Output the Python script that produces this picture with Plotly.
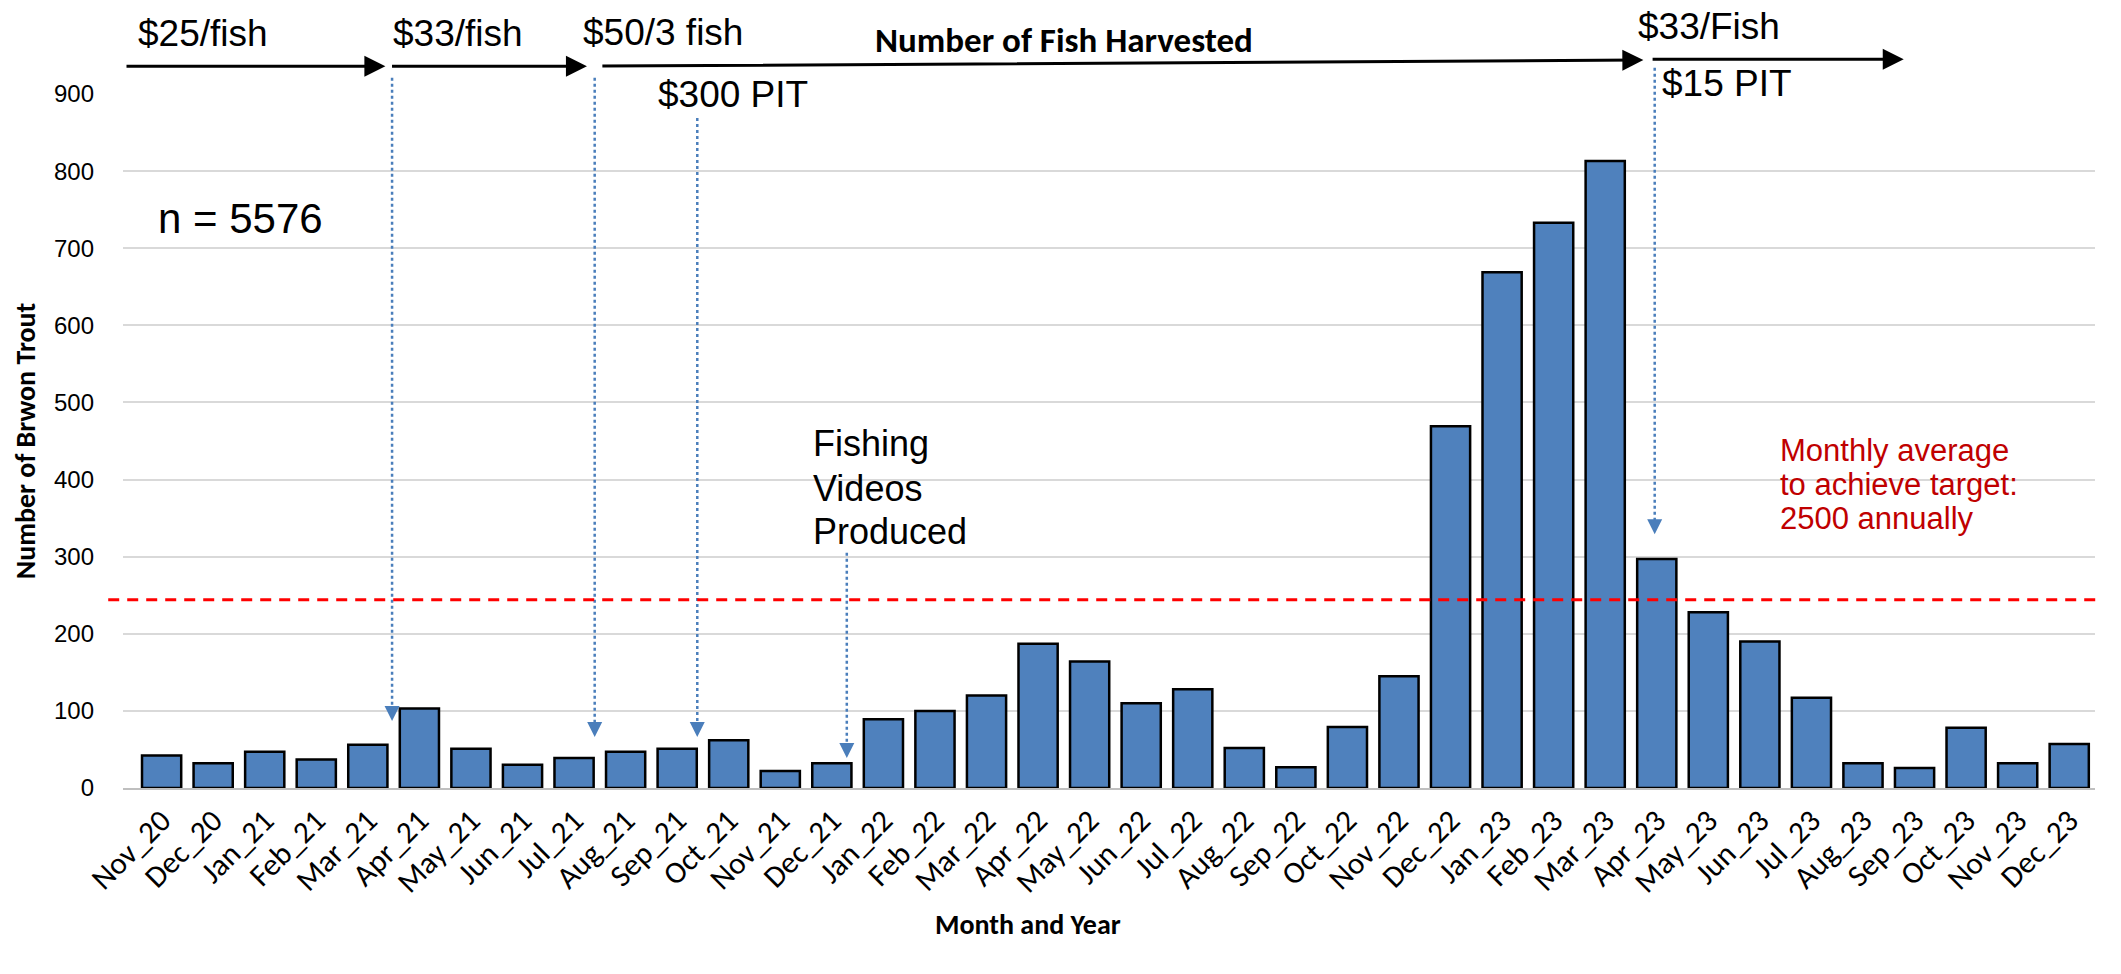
import plotly.graph_objects as go

months = ["Nov_20", "Dec_20", "Jan_21", "Feb_21", "Mar_21", "Apr_21", "May_21", "Jun_21",
          "Jul_21", "Aug_21", "Sep_21", "Oct_21", "Nov_21", "Dec_21", "Jan_22", "Feb_22",
          "Mar_22", "Apr_22", "May_22", "Jun_22", "Jul_22", "Aug_22", "Sep_22", "Oct_22",
          "Nov_22", "Dec_22", "Jan_23", "Feb_23", "Mar_23", "Apr_23", "May_23", "Jun_23",
          "Jul_23", "Aug_23", "Sep_23", "Oct_23", "Nov_23", "Dec_23"]
trout = [42, 32, 47, 37, 56, 103, 51, 30, 39, 47, 51, 62, 22, 32, 89, 100, 120, 187, 164,
         110, 128, 52, 27, 79, 145, 469, 669, 733, 813, 297, 228, 190, 117, 32, 26, 78, 32, 57]
target_monthly = 244
y_max = 900
y_ticks = [0, 100, 200, 300, 400, 500, 600, 700, 800, 900]

# header price labels: (text, x index, y value on the count scale)
price_labels = [("$25/fish", 0.80, 979), ("$33/fish", 5.74, 979), ("$50/3 fish", 9.73, 980),
                ("$33/Fish", 30.01, 987), ("$300 PIT", 11.08, 900), ("$15 PIT", 30.37, 913)]
# black period arrows: (x tail, x head, y head value, tail pixel offset)
period_arrows = [(-0.71, 4.34, 936, 0), (4.44, 8.25, 936, 0),
                 (8.52, 28.74, 944, 6), (28.89, 33.79, 945, 0)]
# blue dotted event arrows: (x index, top value, tip value)
event_arrows = [(4.47, 921, 87), (8.40, 921, 66), (10.39, 869, 66),
                (13.29, 305, 39), (28.96, 934, 329)]
videos_lines = ["Fishing", "Videos", "Produced"]
videos_pos = (12.59, [447, 389, 332])
target_lines = ["Monthly average", "to achieve target:", "2500 annually"]
target_pos = (31.36, [438, 394, 350])

ARIAL = "Arial, 'Liberation Sans', sans-serif"
CAL = "Carlito, Calibri, Lato, sans-serif"
BLUE = "#4A7EBB"


def py(v):
    return v / y_max


fig = go.Figure()
fig.add_trace(go.Bar(
    x=months, y=trout,
    marker=dict(color="#4F81BD", line=dict(color="black", width=2.5)),
    showlegend=False,
))

ann = []
for t, x, y in price_labels:
    ann.append(dict(text=t, x=x, y=py(y), xref="x", yref="paper", showarrow=False,
                    xanchor="center", yanchor="middle",
                    font=dict(family=ARIAL, size=37, color="black")))
ann.append(dict(text="<b>Number of Fish Harvested</b>", x=17.50, y=py(970), xref="x",
                yref="paper", showarrow=False, xanchor="center", yanchor="middle",
                font=dict(family=CAL, size=35, color="black")))
ann.append(dict(text="n = 5576", x=1.53, y=739, xref="x", yref="y", showarrow=False,
                xanchor="center", yanchor="middle",
                font=dict(family=ARIAL, size=42, color="black")))
for t, y in zip(videos_lines, videos_pos[1]):
    ann.append(dict(text=t, x=videos_pos[0], y=y, xref="x", yref="y", xanchor="left",
                    yanchor="middle", showarrow=False,
                    font=dict(family=ARIAL, size=36, color="black")))
for t, y in zip(target_lines, target_pos[1]):
    ann.append(dict(text=t, x=target_pos[0], y=y, xref="x", yref="y", xanchor="left",
                    yanchor="middle", showarrow=False,
                    font=dict(family=ARIAL, size=31, color="#C00000")))
for x0, x1, y1, dy in period_arrows:
    ann.append(dict(text="", x=x1, y=py(y1), ax=x0, ay=dy, xref="x", yref="paper",
                    axref="x", ayref="pixel", showarrow=True, arrowhead=2, arrowsize=1.4,
                    arrowwidth=3, arrowcolor="black", standoff=0))
shapes = []
for x, top, tip in event_arrows:
    shapes.append(dict(type="line", xref="x", yref="paper", x0=x, x1=x, y0=py(top),
                       y1=py(tip + 15), line=dict(color=BLUE, width=2.5, dash="dot")))
    ann.append(dict(text="", x=x, y=tip, ax=0, ay=-16, xref="x", yref="y",
                    showarrow=True, arrowhead=2, arrowsize=1.5, arrowwidth=2,
                    arrowcolor=BLUE, standoff=0))
shapes.append(dict(type="line", xref="paper", yref="y", x0=-0.0075, x1=1.0005,
                   y0=target_monthly, y1=target_monthly,
                   line=dict(color="#FF0000", width=3, dash="11px,8px")))
# x-axis title (placed off-centre as in the original)
ann.append(dict(text="<b>Month and Year</b>", x=0.459, y=-0.196, xref="paper", yref="paper",
                xanchor="center", yanchor="middle", showarrow=False,
                font=dict(family=CAL, size=28, color="black")))

fig.update_layout(
    width=2121, height=974,
    margin=dict(l=123, r=26, t=94, b=186),
    paper_bgcolor="white", plot_bgcolor="white",
    bargap=0.24,
    annotations=ann, shapes=shapes,
    xaxis=dict(
        type="category", tickangle=-45,
        tickfont=dict(family=CAL, size=31, color="black"),
        showline=True, linecolor="#BFBFBF", linewidth=2, showgrid=False, ticks="",
    ),
    yaxis=dict(
        range=[0, y_max], tickvals=y_ticks, showgrid=True, gridcolor="#D9D9D9", gridwidth=2,
        zeroline=False, showline=False, ticks="",
        tickfont=dict(family=ARIAL, size=24, color="black"),
        ticklabelstandoff=28,
        title=dict(text="<b>Number of Brwon Trout</b>", font=dict(family=CAL, size=28, color="black"),
                   standoff=10),
    ),
)

fig.write_html("out.html", config={"displayModeBar": False},
               post_script="document.body.style.margin='0';document.body.style.overflow='hidden';")
